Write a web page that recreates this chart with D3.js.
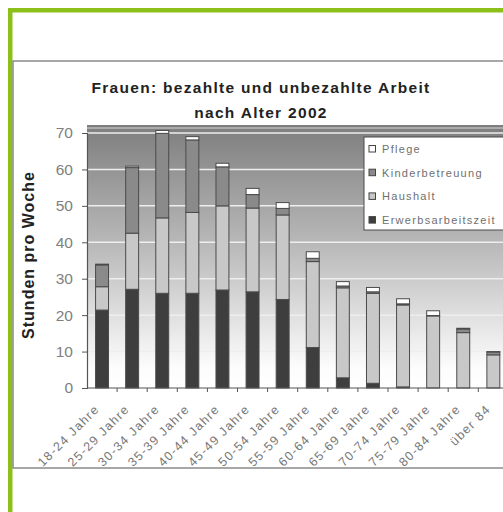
<!DOCTYPE html>
<html><head><meta charset="utf-8">
<script src="https://cdn.jsdelivr.net/npm/d3@7"></script>
<style>body{margin:0;background:#fff}svg{display:block}text{font-family:"Liberation Sans",Arial,sans-serif}</style>
</head><body>
<svg id="c" width="503" height="512"></svg>
<script>
const categories = ["18-24 Jahre","25-29 Jahre","30-34 Jahre","35-39 Jahre","40-44 Jahre","45-49 Jahre","50-54 Jahre","55-59 Jahre","60-64 Jahre","65-69 Jahre","70-74 Jahre","75-79 Jahre","80-84 Jahre","über 84"];
const erwerb   = [21.4, 27.1, 26.0, 26.0, 26.9, 26.4, 24.3, 11.1, 2.8, 1.3, 0.3, 0.0, 0.0, 0.0];
const haushalt = [6.4, 15.4, 20.7, 22.2, 23.1, 23.0, 23.2, 23.6, 24.7, 24.7, 22.5, 19.8, 15.2, 9.1];
const kinder   = [6.0, 18.0, 23.2, 19.9, 10.7, 3.7, 1.8, 0.9, 0.5, 0.4, 0.3, 0.1, 1.0, 0.8];
const pflege   = [0.2, 0.4, 0.8, 0.9, 1.0, 1.7, 1.6, 1.8, 1.2, 1.2, 1.4, 1.3, 0.2, 0.1];
const seriesNames = ["Erwerbsarbeitszeit","Haushalt","Kinderbetreuung","Pflege"];
const seriesColors = ["#3e3e3e","#c8c8c8","#8a8a8a","#ffffff"];
const yTicks = [0,10,20,30,40,50,60,70];
const titleLines = ["Frauen: bezahlte und unbezahlte Arbeit","nach Alter 2002"];
const yLabel = "Stunden pro Woche";

const svg = d3.select("#c");
// frame
svg.append("rect").attr("x",8).attr("y",8).attr("width",520).attr("height",520).attr("fill","#fff").attr("stroke","none");
svg.append("rect").attr("x",8).attr("y",8).attr("width",520).attr("height",4.5).attr("fill","#8cbf1a");
svg.append("rect").attr("x",8).attr("y",8).attr("width",4.5).attr("height",520).attr("fill","#8cbf1a");
// chart panel
svg.append("rect").attr("x",13).attr("y",61).attr("width",520).attr("height",407).attr("fill","#fff").attr("stroke","#8a8a8a").attr("stroke-width",1.5);

const x = d3.scaleBand().domain(categories).range([87, 87 + 14*30.1]).padding(0);
const y = d3.scaleLinear().domain([0,70]).range([388,133]);

const defs = svg.append("defs");
const g = defs.append("linearGradient").attr("id","bg").attr("x1",0).attr("y1",0).attr("x2",0).attr("y2",1);
g.append("stop").attr("offset","0%").attr("stop-color","#7e7e7e");
g.append("stop").attr("offset","50%").attr("stop-color","#bfbfbf");
g.append("stop").attr("offset","92%").attr("stop-color","#fcfcfc");
g.append("stop").attr("offset","100%").attr("stop-color","#ffffff");

const plotTop = y(70) - 8;
svg.append("rect").attr("x",x.range()[0]).attr("y",plotTop).attr("width",x.range()[1]-x.range()[0]).attr("height",y(0)-plotTop).attr("fill","url(#bg)");
svg.append("line").attr("x1",x.range()[0]).attr("x2",x.range()[1]).attr("y1",plotTop+3).attr("y2",plotTop+3).attr("stroke","#d8d8d8").attr("stroke-width",1);
// gridlines
svg.append("g").selectAll("line").data(yTicks.filter(d=>d>0)).join("line")
  .attr("x1",x.range()[0]).attr("x2",x.range()[1]).attr("y1",d=>y(d)).attr("y2",d=>y(d))
  .attr("stroke","#eeeeee").attr("stroke-width",1.5);

// stacked bars
const rows = categories.map((c,i)=>({cat:c, Erwerbsarbeitszeit:erwerb[i], Haushalt:haushalt[i], Kinderbetreuung:kinder[i], Pflege:pflege[i]}));
const stack = d3.stack().keys(seriesNames)(rows);
const bw = x.bandwidth()*0.43;
svg.append("g").selectAll("g").data(stack).join("g")
  .attr("fill",(d,i)=>seriesColors[i])
  .selectAll("rect").data(d=>d).join("rect")
  .attr("x",d=>x(d.data.cat)+x.bandwidth()/2-bw/2)
  .attr("width",bw)
  .attr("y",d=>y(d[1]))
  .attr("height",d=>Math.max(0,y(d[0])-y(d[1])))
  .attr("stroke","#4a4a4a").attr("stroke-width",1);

// y axis
const ya = svg.append("g").attr("transform",`translate(${x.range()[0]},0)`)
  .call(d3.axisLeft(y).tickValues(yTicks).tickSize(5).tickPadding(9));
ya.select(".domain").attr("stroke","#555").attr("stroke-width",1.2);
ya.selectAll(".tick line").attr("stroke","#555");
ya.selectAll("text").attr("font-size",15.5).attr("fill","#808080").attr("font-family","Liberation Sans, Arial, sans-serif");

// x axis
const xa = svg.append("g").attr("transform",`translate(0,${y(0)})`);
xa.append("line").attr("x1",x.range()[0]).attr("x2",x.range()[1]).attr("stroke","#555").attr("stroke-width",1.2);
xa.selectAll("line.t").data(categories).join("line").attr("class","t")
  .attr("x1",d=>x(d)+x.bandwidth()).attr("x2",d=>x(d)+x.bandwidth()).attr("y1",0).attr("y2",4).attr("stroke","#555");
xa.selectAll("text").data(categories).join("text")
  .attr("transform",d=>`translate(${x(d)+x.bandwidth()/2-2},${22}) rotate(-45)`)
  .attr("text-anchor","end").attr("font-size",12.5).attr("letter-spacing",1.3).attr("fill","#777")
  .text(d=>d);

// title
svg.append("g").selectAll("text").data(titleLines).join("text")
  .attr("x",261).attr("y",(d,i)=>93+i*25).attr("text-anchor","middle")
  .attr("font-weight","bold").attr("font-size",15.5).attr("fill","#222").attr("letter-spacing",1.3)
  .text(d=>d);

// y label
svg.append("text").attr("transform","translate(34,255) rotate(-90)").attr("text-anchor","middle")
  .attr("font-weight","bold").attr("font-size",16).attr("fill","#222").attr("letter-spacing",1).text(yLabel);

// legend
const leg = svg.append("g").attr("transform","translate(364,137)");
leg.append("rect").attr("width",160).attr("height",93).attr("fill","#fff").attr("stroke","#4a4a4a").attr("stroke-width",1);
const legOrder = [3,2,1,0];
const li = leg.selectAll("g.i").data(legOrder).join("g").attr("class","i")
  .attr("transform",(d,i)=>`translate(5,${12+i*23.7})`);
li.append("rect").attr("x",0).attr("y",-3.5).attr("width",6.5).attr("height",6.5)
  .attr("fill",d=>seriesColors[d]).attr("stroke","#444").attr("stroke-width",1);
li.append("text").attr("x",13).attr("y",4).attr("font-size",11).attr("letter-spacing",1.3).attr("fill","#707070")
  .text(d=>seriesNames[d]);
</script>
</body></html>
